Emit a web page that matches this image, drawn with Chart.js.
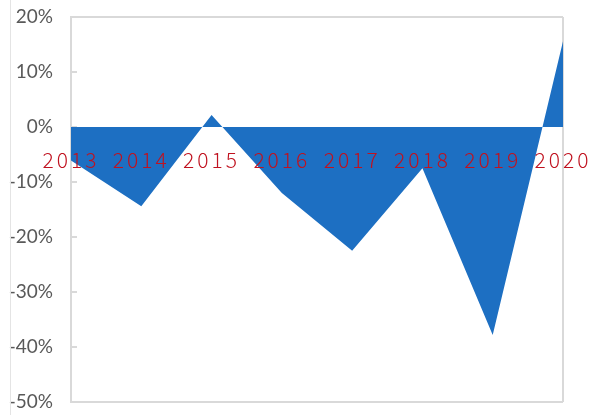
<!DOCTYPE html>
<html>
<head>
<meta charset="utf-8">
<script src="https://cdn.jsdelivr.net/npm/chart.js@4"></script>
<style>
  body { margin: 0; background: #fff; }
  #wrap { position: relative; width: 592px; height: 415px; }
  #frame { position: absolute; left: 10px; top: 0; bottom: 0; border-left: 1px solid #e4e4e4; }
</style>
</head>
<body>
<div id="wrap">
  <div id="frame"></div>
  <canvas id="chart" width="592" height="415"></canvas>
</div>
<script>
// yearly change, in percent
const years = ["2013", "2014", "2015", "2016", "2017", "2018", "2019", "2020"];
const change = [-6.1, -14.4, 2.2, -12, -22.5, -7.5, -37.8, 15.6];
const yTicks = [20, 10, 0, -10, -20, -30, -40, -50];

const BORDER = "#d9d9d9";

// year labels sit on the zero line with wide tracking
const trackLabels = {
  id: "trackLabels",
  afterDatasetsDraw(chart) { chart.ctx.letterSpacing = "3px"; },
  afterDraw(chart) { chart.ctx.letterSpacing = "0px"; }
};

const ctx = document.getElementById("chart").getContext("2d");
new Chart(ctx, {
  type: "line",
  data: {
    labels: years,
    datasets: [{
      data: change,
      backgroundColor: "#1d6fc2",
      borderWidth: 0,
      pointRadius: 0,
      fill: "origin",
      tension: 0
    }]
  },
  options: {
    responsive: false,
    animation: false,
    layout: { padding: { left: 0, right: 29, top: 17, bottom: 13 } },
    plugins: { legend: { display: false }, tooltip: { enabled: false } },
    scales: {
      x: {
        position: { y: 0 },
        offset: false,
        // the axis floats on zero, so it takes no room in the layout
        afterFit: axis => {
          axis.height = 0;
          axis.paddingLeft = 0;
          axis.paddingRight = 0;
          axis.paddingTop = 0;
          axis.paddingBottom = 0;
        },
        grid: {
          drawTicks: false,
          color: c => c.index === years.length - 1 ? BORDER : "transparent",
          lineWidth: 2
        },
        border: { display: false },
        ticks: {
          z: 1,
          padding: 20,
          maxRotation: 0,
          autoSkip: false,
          color: "#c0121f",
          font: { family: "Noto Sans CJK SC", size: 21, weight: "300" }
        }
      },
      y: {
        min: -50,
        max: 20,
        afterBuildTicks: axis => { axis.ticks = yTicks.map(v => ({ value: v })); },
        afterFit: axis => { axis.width = 71; axis.paddingTop = 0; axis.paddingBottom = 0; },
        grid: {
          tickLength: -6,
          lineWidth: 2,
          color: c => (c.tick.value === 20 || c.tick.value === -50) ? BORDER : "transparent",
          tickColor: BORDER
        },
        border: { color: BORDER, width: 2 },
        ticks: {
          padding: 24,
          color: "#595959",
          font: { family: "Lato", size: 19 },
          callback: v => v + "%"
        }
      }
    }
  },
  plugins: [trackLabels]
});
</script>
</body>
</html>
